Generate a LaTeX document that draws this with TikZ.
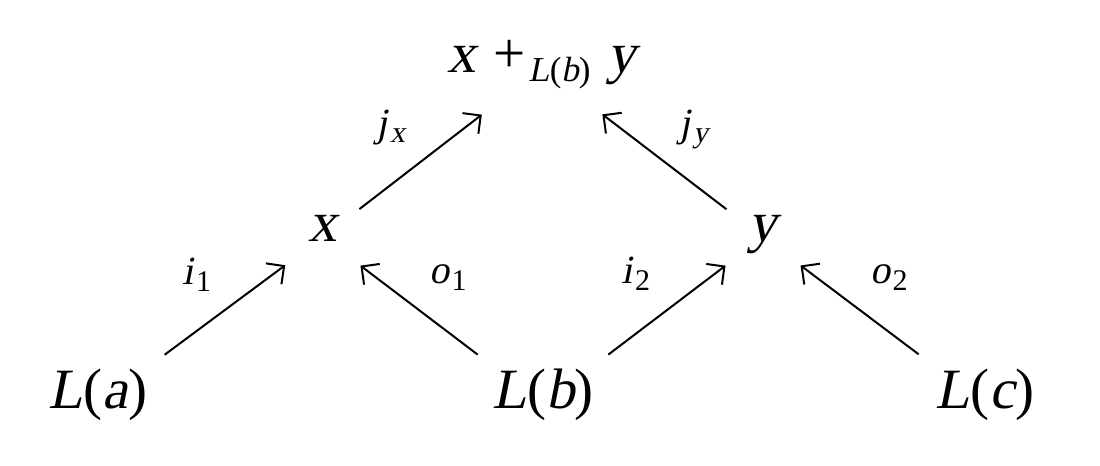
\documentclass[tikz,border=0pt]{standalone}
\usepackage{fontspec}
\setmainfont{Liberation Serif}
\newfontfamily\itf{Liberation Serif}[FakeSlant=0.2]
\usetikzlibrary{arrows.meta,calc}
\newcommand\obj[1]{{\itf #1}}
\newcommand\lsub[2]{\obj{#1}\hspace{1pt}\raisebox{-3.5pt}{\fontsize{15}{16}\selectfont #2}}
\tikzset{
  mainobj/.style={font=\fontsize{28.5}{30}\selectfont, inner sep=0pt, anchor=base, text height=0.6em, text depth=0.22em},
  lbl/.style={font=\fontsize{20}{22}\selectfont, inner sep=0pt, anchor=base},
  arr/.style={line width=1pt, -{Straight Barb[length=6.5pt,width=13pt,line width=1pt]}}
}
\begin{document}
\begin{tikzpicture}[x=0.5pt,y=-0.5pt]
\useasboundingbox (0,0) rectangle (1100,466);
\node[mainobj] (la) at (98,408) {\obj{L}(\obj{a})};
\node[mainobj] (lb) at (543,408) {\obj{L}(\obj{b})};
\node[mainobj] (lc) at (985,408) {\obj{L}(\obj{c})};
\node[mainobj] (x) at (323,241) {\obj{x}};
\node[mainobj] (y) at (763,241) {\obj{y}};
\node[mainobj] (top) at (542,72) {\obj{x}\hspace{0.3em}+\hspace{0.05em}\raisebox{-5pt}{\fontsize{17.5}{18}\selectfont\obj{L}(\obj{b})}\hspace{0.3em}\obj{y}};
\draw[arr] ($(la)!41.5pt!(x)$) -- ($(x)!23.5pt!(la)$);
\draw[arr] ($(lb)!41pt!(x)$) -- ($(x)!23.5pt!(lb)$);
\draw[arr] ($(lb)!41pt!(y)$) -- ($(y)!23.5pt!(lb)$);
\draw[arr] ($(lc)!41.5pt!(y)$) -- ($(y)!23.5pt!(lc)$);
\draw[arr] ($(x)!23pt!(top)$) -- ($(top)!38pt!(x)$);
\draw[arr] ($(y)!23pt!(top)$) -- ($(top)!38pt!(y)$);
\node[lbl] (li1) at (197,284) {\lsub{i}{1}};
\node[lbl] (lo1) at (448,283) {\lsub{o}{1}};
\node[lbl] (li2) at (636,283) {\lsub{i}{2}};
\node[lbl] (lo2) at (889,283) {\lsub{o}{2}};
\node[lbl] (ljx) at (391,136) {\obj{j}\hspace{1pt}\raisebox{-3pt}{\fontsize{15}{16}\selectfont\obj{x}}};
\node[lbl] (ljy) at (694,136) {\obj{j}\hspace{1pt}\raisebox{-3pt}{\fontsize{15}{16}\selectfont\obj{y}}};
\end{tikzpicture}
\end{document}
